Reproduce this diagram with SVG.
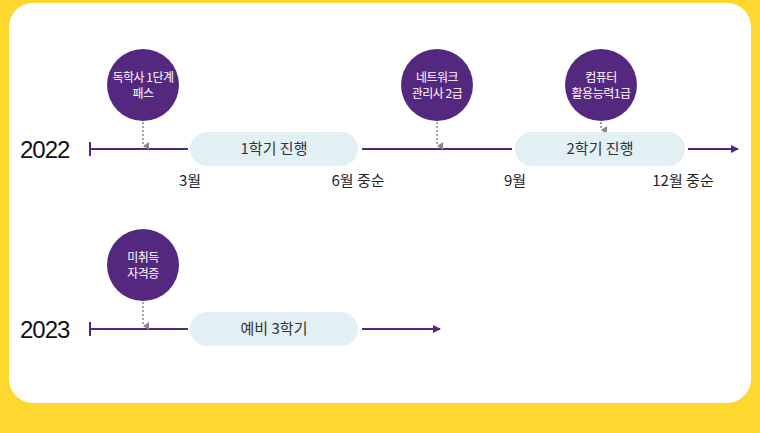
<svg xmlns="http://www.w3.org/2000/svg" width="760" height="433" viewBox="0 0 760 433">
<style>
.c{fill:#55287f}.ct{fill:#fff;font:12px "Noto Sans CJK KR",sans-serif;text-anchor:middle;letter-spacing:-0.5px}
.p{fill:#e2eff3}.pt{fill:#333;font:15px "Noto Sans CJK KR",sans-serif;text-anchor:middle}
.l{stroke:#55287f;stroke-width:2;fill:none}.d{stroke:#888;stroke-width:1.5;stroke-dasharray:2 2}
.y{font:24px "Liberation Sans",sans-serif;fill:#111;letter-spacing:-1px}.m{font:15px "Noto Sans CJK KR",sans-serif;fill:#222;text-anchor:middle}
</style>
<defs><marker id="a" markerWidth="8" markerHeight="8" refX="7" refY="4" orient="auto" markerUnits="userSpaceOnUse"><path d="M0,0L8,4L0,8z" fill="#55287f"/></marker>
<marker id="g" markerWidth="8" markerHeight="6" refX="4" refY="6" orient="auto" markerUnits="userSpaceOnUse"><path d="M0,0L8,0L4,6z" fill="#888"/></marker></defs>
<rect width="760" height="433" fill="#fed72f"/>
<rect x="9" y="3" width="742" height="400" rx="24" fill="#fff"/>
<g id="connectors">
<path class="l" d="M90,149H188M362,149H512M688,149H738" marker-end="url(#a)"/>
<path class="l" d="M90,142v14"/>
<path class="l" d="M90,329H188M362,329H440" marker-end="url(#a)"/>
<path class="l" d="M90,322v14"/>
<path class="d" d="M143,122V146" marker-end="url(#g)"/>
<path class="d" d="M437,122V146" marker-end="url(#g)"/>
<path class="d" d="M601,122V130" marker-end="url(#g)"/>
<path class="d" d="M143,302V326" marker-end="url(#g)"/>
</g>
<text class="y" x="20" y="158">2022</text>
<text class="y" x="20" y="338">2023</text>
<g id="n1"><circle class="c" cx="143" cy="85" r="36"/><text class="ct" x="143" y="82">독학사 1단계</text><text class="ct" x="143" y="98">패스</text></g>
<g id="n2"><circle class="c" cx="437" cy="85" r="36"/><text class="ct" x="437" y="82">네트워크</text><text class="ct" x="437" y="98">관리사 2급</text></g>
<g id="n3"><circle class="c" cx="601" cy="85" r="36"/><text class="ct" x="601" y="82">컴퓨터</text><text class="ct" x="601" y="98">활용능력1급</text></g>
<g id="n4"><circle class="c" cx="143" cy="265" r="36"/><text class="ct" x="143" y="262">미취득</text><text class="ct" x="143" y="278">자격증</text></g>
<g id="p1"><rect class="p" x="190" y="132" width="168" height="34" rx="17"/><text class="pt" x="274" y="154">1학기 진행</text></g>
<g id="p2"><rect class="p" x="515" y="132" width="170" height="34" rx="17"/><text class="pt" x="600" y="154">2학기 진행</text></g>
<g id="p3"><rect class="p" x="190" y="312" width="168" height="34" rx="17"/><text class="pt" x="274" y="334">예비 3학기</text></g>
<text class="m" x="190" y="186">3월</text>
<text class="m" x="358" y="186">6월 중순</text>
<text class="m" x="515" y="186">9월</text>
<text class="m" x="683" y="186">12월 중순</text>
</svg>
